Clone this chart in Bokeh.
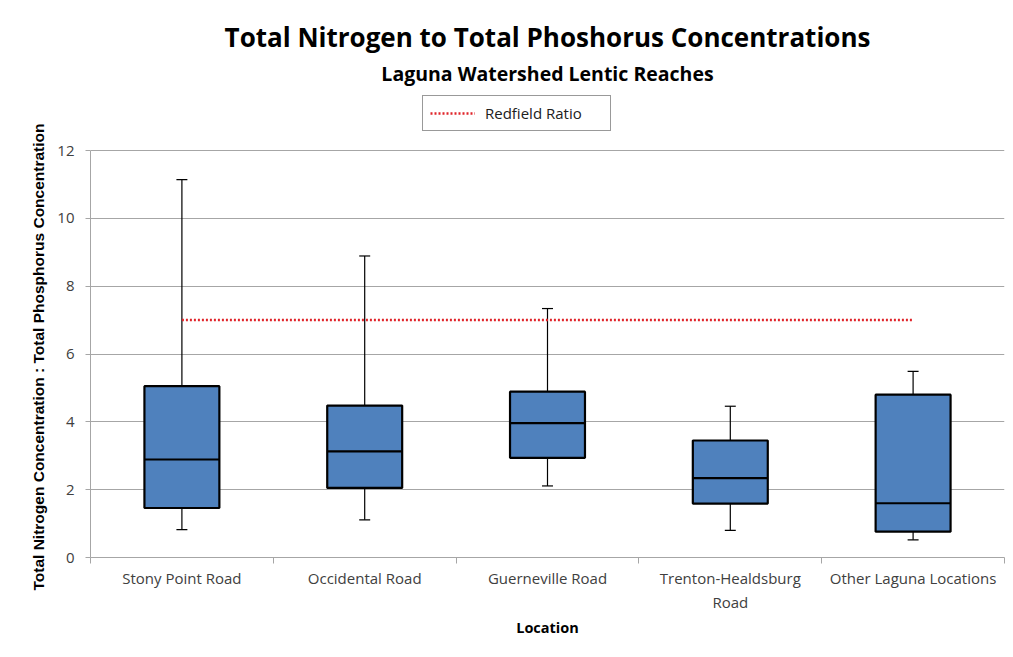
from bokeh.plotting import figure
from bokeh.models import FixedTicker, Legend, LegendItem, Title, Range1d
from bokeh.embed import file_html
from bokeh.resources import INLINE

# ---- data ----
categories = ["Stony Point Road", "Occidental Road", "Guerneville Road",
              "Trenton-Healdsburg\nRoad", "Other Laguna Locations"]
lower = [0.82, 1.11, 2.11, 0.80, 0.52]
q1 = [1.46, 2.05, 2.94, 1.59, 0.76]
median = [2.89, 3.13, 3.96, 2.34, 1.60]
q3 = [5.05, 4.48, 4.89, 3.45, 4.80]
upper = [11.14, 8.89, 7.34, 4.46, 5.49]
redfield_ratio = 7.0
y_ticks = [0, 2, 4, 6, 8, 10, 12]

# ---- layout helpers ----
xs = list(range(1, len(categories) + 1))
box_w = 0.41
cap_w = 0.03
bounds = [i - 0.5 for i in xs] + [xs[-1] + 0.5]

GRID = "#a6a6a6"
BLUE = "#4f81bd"
FONT = "Open Sans"

AXIS_PX = 407          # pixel height of the 0..12 value axis
FRAME_H = 467          # frame also holds the legend strip above the axis
y_top = y_ticks[-1] * FRAME_H / AXIS_PX

p = figure(frame_width=914, frame_height=FRAME_H, output_backend="svg", toolbar_location=None,
           x_range=Range1d(bounds[0], bounds[-1]), y_range=Range1d(0, y_top),
           min_border_left=90, min_border_right=4, min_border_bottom=94, min_border_top=90)
p.outline_line_color = None
p.background_fill_color = "white"
p.border_fill_color = "white"

# whiskers
p.segment(x0=xs, y0=q3, x1=xs, y1=upper, line_color="black", line_width=1.2)
p.segment(x0=xs, y0=lower, x1=xs, y1=q1, line_color="black", line_width=1.2)
p.segment(x0=[v - cap_w for v in xs], y0=upper, x1=[v + cap_w for v in xs], y1=upper,
          line_color="black", line_width=1.2)
p.segment(x0=[v - cap_w for v in xs], y0=lower, x1=[v + cap_w for v in xs], y1=lower,
          line_color="black", line_width=1.2)
# boxes
p.vbar(x=xs, width=box_w, bottom=q1, top=q3, fill_color=BLUE,
       line_color="black", line_width=2.2)
# medians
p.segment(x0=[v - box_w / 2 for v in xs], y0=median, x1=[v + box_w / 2 for v in xs], y1=median,
          line_color="black", line_width=2.2)
# redfield ratio
rline = p.line(x=[xs[0], xs[-1]], y=[redfield_ratio, redfield_ratio],
               line_color="#e0242a", line_width=2.5, line_dash="2 2")

# axes
yax = p.yaxis[0]
yax.ticker = FixedTicker(ticks=y_ticks)
yax.bounds = (y_ticks[0], y_ticks[-1])
yax.axis_line_color = GRID
yax.major_tick_line_color = GRID
yax.major_tick_out = 5
yax.major_tick_in = 0
yax.minor_tick_line_color = None
yax.major_label_text_font = FONT
yax.major_label_text_font_size = "15px"
yax.major_label_text_color = "#404040"
yax.major_label_standoff = 11

p.add_layout(Title(text="Total Nitrogen Concentration : Total Phosphorus Concentration",
                   align="left", offset=-33, text_font="Liberation Sans",
                   text_font_style="bold", text_font_size="15.5px", text_color="black",
                   standoff=15), "left")

xax = p.xaxis[0]
xax.ticker = FixedTicker(ticks=xs, minor_ticks=bounds)
xax.major_label_overrides = {v: c for v, c in zip(xs, categories)}
xax.axis_line_color = GRID
xax.major_tick_out = 0
xax.major_tick_in = 0
xax.minor_tick_out = 6
xax.minor_tick_in = 0
xax.minor_tick_line_color = GRID
xax.major_label_text_font = FONT
xax.major_label_text_font_size = "15px"
xax.major_label_text_color = "#404040"
xax.major_label_standoff = 4
xax.axis_label = "Location"
xax.axis_label_text_font = FONT
xax.axis_label_text_font_style = "bold"
xax.axis_label_text_font_size = "14.5px"
xax.axis_label_text_color = "black"
xax.axis_label_standoff = 3

p.xgrid.visible = False
p.ygrid.ticker = FixedTicker(ticks=y_ticks)
p.ygrid.grid_line_color = GRID
p.ygrid.grid_line_width = 1.2

# legend in the strip above the value axis
legend = Legend(items=[LegendItem(label="Redfield Ratio", renderers=[rline])],
                location=(332, 426), orientation="horizontal",
                border_line_color="#333333", border_line_width=1,
                label_text_font=FONT, label_text_font_size="15px",
                label_text_color="#202020", glyph_width=45, glyph_height=16,
                label_standoff=10, label_width=118,
                padding=7, margin=0, spacing=0)
p.add_layout(legend, "center")
p.add_layout(Title(text="Laguna Watershed Lentic Reaches", align="center",
                   text_font=FONT, text_font_style="bold", text_font_size="19.5px",
                   text_color="black", standoff=7), "above")
p.add_layout(Title(text="Total Nitrogen to Total Phoshorus Concentrations", align="center",
                   text_font=FONT, text_font_style="bold", text_font_size="26px",
                   text_color="black", standoff=0), "above")

open("out.html", "w").write(file_html(p, INLINE))
